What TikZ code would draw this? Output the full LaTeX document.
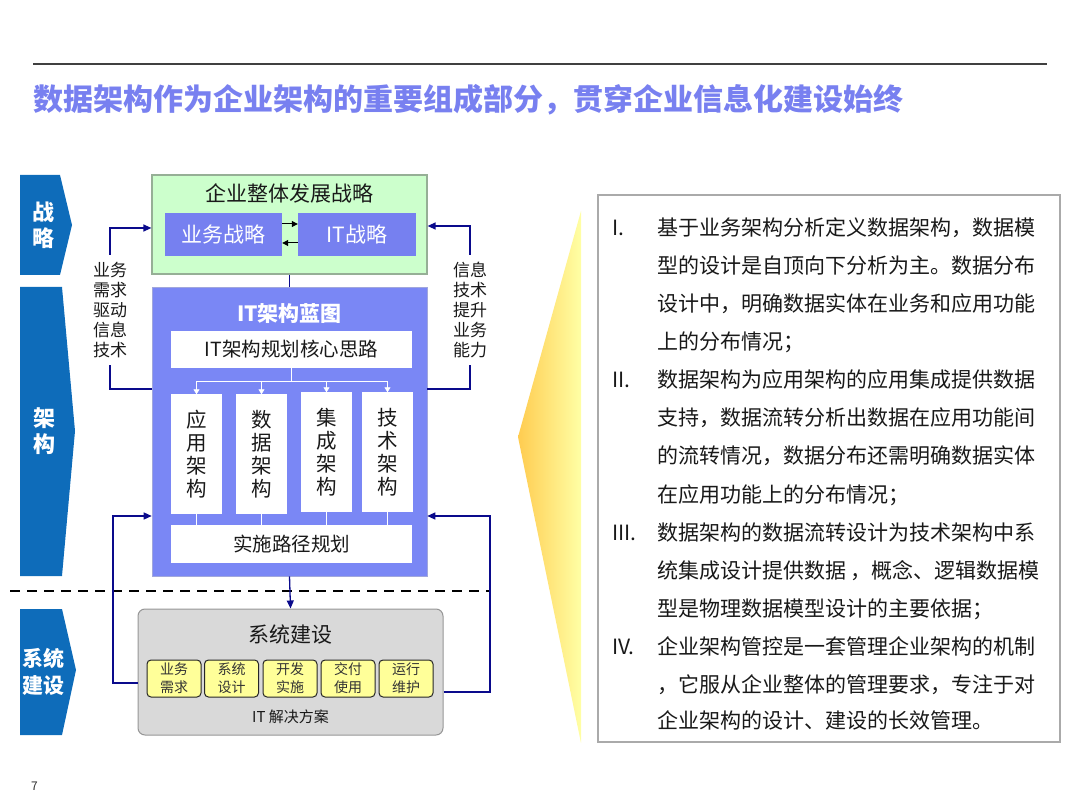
\documentclass[tikz,border=0pt]{standalone}
\usepackage{fontspec}
\setmainfont{Noto Sans CJK SC}
\usetikzlibrary{arrows.meta,calc}
\definecolor{chev}{RGB}{14,108,186}
\definecolor{titlec}{RGB}{120,128,240}
\definecolor{bluebox}{RGB}{122,135,245}
\definecolor{innerblue}{RGB}{118,128,240}
\definecolor{greenf}{RGB}{204,255,204}
\definecolor{greenb}{RGB}{150,175,150}
\definecolor{navy}{RGB}{10,10,140}
\definecolor{grayf}{RGB}{217,217,217}
\definecolor{grayb}{RGB}{150,150,150}
\definecolor{yell}{RGB}{255,255,153}
\definecolor{txt}{RGB}{25,25,25}
\newcommand\fsz[2]{\fontsize{#1pt}{#2pt}\selectfont}
\begin{document}
\begin{tikzpicture}[x=1pt,y=-1pt,
  fb/.style={draw=navy, line width=1.3pt},
  fbA/.style={fb, -{Triangle[length=8pt,width=7pt]}},
  whiteln/.style={draw=white, line width=0.9pt},
  whiteA/.style={whiteln, -{Triangle[length=5pt,width=6pt]}},
  blackA/.style={draw=black, line width=1pt, -{Triangle[length=6pt,width=6pt]}},
  chevtxt/.style={text=white, font=\fsz{22}{26}\bfseries, align=center, inner sep=0pt},
  ibox/.style={fill=innerblue, text=white, font=\fsz{21}{24}, minimum width=117pt, minimum height=43pt, inner sep=0pt},
  wbox/.style={fill=white, text=txt, font=\fsz{19.5}{23}, inner sep=0pt},
  colbox/.style={wbox, minimum width=51pt, minimum height=119pt, font=\fsz{20.5}{23}, align=center},
  ybox/.style={draw=black!85, line width=1pt, fill=yell, rounded corners=4pt, minimum width=54pt, minimum height=37pt, inner sep=0pt, align=center, font=\fsz{14}{18}, text=black!80},
  sidetxt/.style={font=\fsz{17}{20}, align=center, text=txt, inner xsep=2pt, inner ysep=7pt},
  ptxt/.style={anchor=base west, font=\fsz{21}{24}, text=txt, inner sep=0pt}
]
\useasboundingbox (0,0) rectangle (1080,810);
% header
\draw[line width=2pt, black!75] (33,64) -- (1047,64);
\node[anchor=base west, inner sep=0pt, text=titlec, font=\fsz{30}{34}\bfseries] (title) at (33,111) {数据架构作为企业架构的重要组成部分，贯穿企业信息化建设始终};
\node[anchor=base west, inner sep=0pt, font=\fsz{12}{14}, text=black!80] (pg) at (31,790) {7};

% chevrons
\fill[chev] (20,175) -- (60,175) -- (72,225) -- (60,275) -- (20,275) -- cycle;
\fill[chev] (20,287) -- (62,287) -- (75,431) -- (62,576) -- (20,576) -- cycle;
\fill[chev] (20,609) -- (62,609) -- (76,670) -- (62,735) -- (20,735) -- cycle;
\node[chevtxt] (c1) at (43,225) {战\\略};
\node[chevtxt] (c2) at (44,431) {架\\构};
\node[chevtxt, font=\fsz{21}{27}\bfseries] (c3) at (44,672) {系统\\建设};

% green strategy box
\node[draw=greenb, line width=1.2pt, fill=greenf, minimum width=275pt, minimum height=99pt, inner sep=0pt] (green) at (289.5,224.5) {};
\node[font=\fsz{21}{24}, text=txt, inner sep=0pt] (gtitle) at (289.5,193) {企业整体发展战略};
\node[ibox] (ywzl) at (223.5,234.5) {业务战略};
\node[ibox, minimum width=118pt] (itzl) at (357,234.5) {IT战略};
\draw[blackA] ([yshift=10.5pt]ywzl.east) -- ([yshift=10.5pt]itzl.west);
\draw[blackA] ([yshift=-8.5pt]itzl.west) -- ([yshift=-8.5pt]ywzl.east);

% blue blueprint box
\node[draw=bluebox!80!black!60, line width=0.6pt, fill=bluebox, minimum width=275pt, minimum height=289pt, inner sep=0pt] (blue) at (289.5,431.5) {};
\draw[draw=navy, line width=1.3pt] (green.south) -- (blue.north);
\node[text=white, font=\fsz{21}{24}\bfseries, inner sep=0pt] (btitle) at (289.5,314) {IT架构蓝图};
\node[wbox, minimum width=241pt, minimum height=37pt] (core) at (291.5,349.5) {IT架构规划核心思路};
\node[colbox] (col1) at (196.5,454) {应\\用\\架\\构};
\node[colbox] (col2) at (261.5,454) {数\\据\\架\\构};
\node[colbox] (col3) at (326.5,452) {集\\成\\架\\构};
\node[colbox] (col4) at (387.5,452) {技\\术\\架\\构};
\node[wbox, minimum width=241pt, minimum height=38pt] (impl) at (291.5,544) {实施路径规划};
\coordinate (hub) at (291.5,381);
\draw[whiteln] (core.south) -- (hub);
\draw[whiteln] (hub -| col1.north) -- (hub -| col4.north);
\foreach \c in {col1,col2,col3,col4} {
  \draw[whiteA] (hub -| \c.north) -- (\c.north);
  \draw[whiteln] (\c.south) -- (\c.south |- impl.north);
}

% side labels and feedback loops
\node[sidetxt] (lt) at (110,310) {业务\\需求\\驱动\\信息\\技术};
\node[sidetxt] (rt) at (470,310) {信息\\技术\\提升\\业务\\能力};
\coordinate (uL1) at (110,389); \coordinate (uL2) at (110,228);
\coordinate (uR1) at (470,389); \coordinate (uR2) at (470,226);
\draw[fb] (uL1 -| blue.west) -- (uL1) -- (lt.south);
\draw[fbA] (lt.north) -- (uL2) -- (uL2 -| green.west);
\draw[fb] (uR1 -| blue.east) -- (uR1) -- (rt.south);
\draw[fbA] (rt.north) -- (uR2) -- (uR2 -| green.east);

% dashed separator
\coordinate (dL) at (10,591); \coordinate (dR) at (490,591);
\draw[black, line width=2.5pt, dash pattern=on 10pt off 7pt] (dL) -- (dR);

% system construction box
\node[draw=grayb, line width=1pt, fill=grayf, rounded corners=7pt, minimum width=305pt, minimum height=126pt, inner sep=0pt] (sys) at (290.5,672) {};
\draw[fbA] (blue.south) -- (sys.north);
\node[font=\fsz{21}{24}, text=txt, inner sep=0pt] (stitle) at (290.5,635) {系统建设};
\node[ybox] (y1) at (174,678.5) {业务\\需求};
\node[ybox] (y2) at (231.5,678.5) {系统\\设计};
\node[ybox] (y3) at (290,678.5) {开发\\实施};
\node[ybox] (y4) at (348,678.5) {交付\\使用};
\node[ybox] (y5) at (406,678.5) {运行\\维护};
\node[font=\fsz{15}{18}, text=txt, inner sep=0pt] (sol) at (290.5,717) {IT 解决方案};

\coordinate (cL1) at (113,683); \coordinate (cL2) at (113,516);
\coordinate (cR1) at (490,692); \coordinate (cR2) at (490,516);
\draw[fbA] (cL1 -| sys.west) -- (cL1) -- (cL2) -- (cL2 -| blue.west);
\draw[fbA] (cR1 -| sys.east) -- (cR1) -- (cR2) -- (cR2 -| blue.east);

% yellow wedge
\shade[left color={rgb,255:red,255;green,204;blue,80}, right color={rgb,255:red,255;green,255;blue,165}] (518,437) -- (581,211) -- (581,743) -- cycle;

% text panel
\node[draw={rgb,255:red,170;green,170;blue,170}, line width=1.2pt, fill=white, minimum width=462pt, minimum height=547pt, inner sep=0pt] (panel) at (829,468.5) {};
\node[ptxt] (n1) at (612,236) {I.};
\node[ptxt] (n2) at (612,388) {II.};
\node[ptxt] (n3) at (612,540) {III.};
\node[ptxt] (n4) at (612,654) {IV.};
\node[ptxt] (t1) at (657,236) {基于业务架构分析定义数据架构，数据模};
\node[ptxt] (t2) at (657,274) {型的设计是自顶向下分析为主。数据分布};
\node[ptxt] (t3) at (657,312) {设计中，明确数据实体在业务和应用功能};
\node[ptxt] (t4) at (657,350) {上的分布情况；};
\node[ptxt] (t5) at (657,388) {数据架构为应用架构的应用集成提供数据};
\node[ptxt] (t6) at (657,426) {支持，数据流转分析出数据在应用功能间};
\node[ptxt] (t7) at (657,464) {的流转情况，数据分布还需明确数据实体};
\node[ptxt] (t8) at (657,502) {在应用功能上的分布情况；};
\node[ptxt] (t9) at (657,540) {数据架构的数据流转设计为技术架构中系};
\node[ptxt] (t10) at (657,578) {统集成设计提供数据 ，概念、逻辑数据模};
\node[ptxt] (t11) at (657,616) {型是物理数据模型设计的主要依据；};
\node[ptxt] (t12) at (657,654) {企业架构管控是一套管理企业架构的机制};
\node[ptxt] (t13) at (657,692) {，它服从企业整体的管理要求，专注于对};
\node[ptxt] (t14) at (657,728) {企业架构的设计、建设的长效管理。};
\end{tikzpicture}
\end{document}
